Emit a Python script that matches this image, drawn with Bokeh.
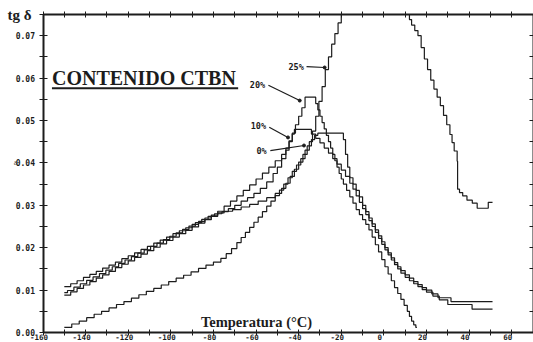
from bokeh.plotting import figure
from bokeh.models import Range1d, LinearAxis, FixedTicker, NumeralTickFormatter, Label
from bokeh.embed import file_html
from bokeh.resources import INLINE

# ---------------- data ----------------
T_10 = [-150, -147, -144, -141, -138, -135, -132, -129, -126, -123, -120, -117, -114, -111, -108,
        -105, -102, -99, -96, -93, -90, -87, -84, -81, -78,
        -75, -72, -69, -66, -63, -60, -57, -54, -51, -48, -46, -44.5, -43, -42,
        -34, -32, -30, -28, -26, -24, -22, -20, -18, -16, -14.5, -13, -11.5, -10, -8.5, -7, -5.5,
        -4, -2.5, -1, 0.5, 2, 3.5, 5, 6.5, 8, 10, 12, 14, 16, 18, 20, 23, 26, 30, 41.4, 51]
V_10 = [0.0108, 0.0115, 0.0122, 0.0130, 0.0137, 0.0144, 0.0152, 0.0159, 0.0166, 0.0174, 0.0181,
        0.0188, 0.0196, 0.0203, 0.0211, 0.0218, 0.0225, 0.0233, 0.0240, 0.0247, 0.0255, 0.0262,
        0.0270, 0.0277, 0.0286,
        0.0298, 0.0310, 0.0322, 0.0335, 0.0348, 0.0362, 0.0376, 0.0390, 0.0405, 0.0420, 0.0435,
        0.0452, 0.0468, 0.0479,
        0.0468, 0.0458, 0.0447, 0.0435, 0.0423, 0.0410, 0.0397, 0.0383, 0.0368, 0.0352, 0.0338,
        0.0322, 0.0307, 0.0292, 0.0278, 0.0264, 0.0250, 0.0236, 0.0222, 0.0208, 0.0195, 0.0183,
        0.0171, 0.0160, 0.0150, 0.0140, 0.0130, 0.0122, 0.0115, 0.0108, 0.0101, 0.0095, 0.0086,
        0.0077, 0.0066, 0.0055, 0.0055]

T_0 = [-150, -147, -144, -141, -138, -135, -132, -129, -126, -123, -120, -117, -114, -111, -108,
       -105, -102, -99, -96, -93, -90, -87, -84, -81, -78,
       -75, -71, -67, -63, -59, -55, -51, -48, -46, -44, -42, -40, -38, -36, -34, -32.5, -31,
       -19, -18, -17, -16, -14.5, -13, -11.5, -10, -8.5, -7, -5.5, -4, -2.5, -1, 0.5, 2, 3.5,
       5, 6.5, 8, 10, 12, 14, 16, 18, 20, 22.5, 25.4, 31.5, 51]
V_0 = [0.0088, 0.0096, 0.0104, 0.0112, 0.0120, 0.0128, 0.0136, 0.0144, 0.0153, 0.0161, 0.0169,
       0.0177, 0.0185, 0.0193, 0.0201, 0.0209, 0.0217, 0.0225, 0.0233, 0.0241, 0.0249, 0.0258,
       0.0266, 0.0274, 0.0282,
       0.0286, 0.0290, 0.0296, 0.0302, 0.0310, 0.0318, 0.0328, 0.0340, 0.0352, 0.0368, 0.0385,
       0.0402, 0.0420, 0.0440, 0.0455, 0.0465, 0.0470,
       0.0455, 0.0420, 0.0390, 0.0365, 0.0350, 0.0335, 0.0320, 0.0300, 0.0285, 0.0270, 0.0256,
       0.0242, 0.0228, 0.0214, 0.0200, 0.0188, 0.0176, 0.0165, 0.0155, 0.0146, 0.0136, 0.0128,
       0.0120, 0.0113, 0.0106, 0.0100, 0.0091, 0.0082, 0.0073, 0.0073]

T_20 = [-150, -148.5, -145.5, -142.5, -139.5, -136.5, -133.5, -130.5, -127.5, -124.5, -121.5,
        -118.5, -115.5, -112.5, -109.5, -106.5, -103.5, -100.5, -97.5, -94.5, -91.5, -88.5,
        -85.5, -82.5, -79.5,
        -76, -73, -70, -67, -64, -61, -58, -55, -52, -50, -48, -46, -44.5, -43, -41.5, -40,
        -38.5, -37,
        -32, -31, -30, -29, -28, -27, -26, -25, -24, -23, -22, -21, -20, -19, -17.5, -16, -14.5,
        -13, -11.5, -10, -8.5, -7, -5.5, -4, -2.5, -1, 0.5, 2, 3.5, 5, 6.5, 8, 9.5, 11, 12, 13,
        14, 15, 15.5]
V_20 = [0.0094, 0.0099, 0.0107, 0.0115, 0.0123, 0.0131, 0.0139, 0.0147, 0.0155, 0.0163, 0.0171,
        0.0179, 0.0187, 0.0195, 0.0203, 0.0211, 0.0219, 0.0227, 0.0235, 0.0243, 0.0251, 0.0259,
        0.0267, 0.0274, 0.0280,
        0.0285, 0.0292, 0.0300, 0.0310, 0.0318, 0.0328, 0.0340, 0.0355, 0.0375, 0.0390, 0.0410,
        0.0430, 0.0450, 0.0470, 0.0490, 0.0510, 0.0530, 0.0555,
        0.0540, 0.0525, 0.0510, 0.0495, 0.0480, 0.0465, 0.0450, 0.0435, 0.0420, 0.0405, 0.0390,
        0.0375, 0.0362, 0.0350, 0.0335, 0.0320, 0.0305, 0.0290, 0.0278, 0.0266, 0.0255, 0.0242,
        0.0225, 0.0207, 0.0190, 0.0172, 0.0155, 0.0138, 0.0122, 0.0106, 0.0092, 0.0078, 0.0064,
        0.0050, 0.0038, 0.0027, 0.0018, 0.0012, 0.0012]

# 25 % : the curve leaves the chart at the top between about -20 and 11 degC
T_25_rise = [-150, -146.5, -143, -139.5, -136, -132.5, -129, -125.5, -122, -118.5, -115, -111.5,
             -108, -104.5, -101, -97.5, -94, -90.5, -87, -83.5, -80, -76.5,
             -74, -71.5, -69, -67, -65, -63, -61, -59, -57, -55, -53, -51, -49, -47, -45, -43,
             -41, -39, -37, -35, -33.5, -32, -30.5, -29, -27.5, -26, -24.5, -23, -21.5, -20,
             -19.5]
V_25_rise = [0.0012, 0.0020, 0.0027, 0.0035, 0.0043, 0.0050, 0.0058, 0.0066, 0.0073, 0.0081,
             0.0089, 0.0097, 0.0104, 0.0112, 0.0120, 0.0128, 0.0135, 0.0143, 0.0151, 0.0159,
             0.0166, 0.0175,
             0.0186, 0.0198, 0.0212, 0.0224, 0.0236, 0.0248, 0.0260, 0.0272, 0.0285, 0.0298,
             0.0310, 0.0323, 0.0336, 0.0350, 0.0365, 0.0380, 0.0395, 0.0410, 0.0430, 0.0450,
             0.0475, 0.0510, 0.0545, 0.0580, 0.0620, 0.0650, 0.0680, 0.0705, 0.0730, 0.0750,
             0.0750]
T_25_fall = [11, 12, 13, 14.5, 16, 17.5, 19, 20.5, 22, 23.5, 25, 26.5, 28, 29.5, 31, 32, 33, 34.4,
             34.6, 35.5, 37, 39, 41.5, 43.8, 49, 51]
V_25_fall = [0.0750, 0.0738, 0.0725, 0.0712, 0.0700, 0.0672, 0.0645, 0.0620, 0.0595, 0.0574,
             0.0555, 0.0535, 0.0512, 0.0490, 0.0467, 0.0448, 0.0428, 0.0404,
             0.0338, 0.0330, 0.0322, 0.0312, 0.0305, 0.0293, 0.0307, 0.0307]

x_ticks = [-160, -140, -120, -100, -80, -60, -40, -20, 0, 20, 40, 60]
x_tick_labels = ["-160", "-140", "-120", "-100", "-80", "-60", "-40", "-20", "0", "20", "40", "60"]
y_ticks = [0.0, 0.01, 0.02, 0.03, 0.04, 0.05, 0.06, 0.07]
X_MIN, X_MAX = -160, 70
Y_MIN, Y_MAX = 0.0, 0.075

series_labels = ["25%", "20%", "10%", "0%"]
label_T = [-41.2, -59.3, -58.9, -57.4]
label_V = [0.0627, 0.0583, 0.0486, 0.0429]
arrow_T0 = [-36.3, -54.2, -53.8, -53.3]
arrow_V0 = [0.0627, 0.0583, 0.0484, 0.0429]
arrow_T1 = [-27.8, -39.5, -45.0, -37.5]
arrow_V1 = [0.0625, 0.0547, 0.0460, 0.0441]

# ---------------- figure ----------------
INK = "#1c1c1c"
MONO = "DejaVu Sans Mono"
SERIF = "Liberation Serif"

# the frame fills the canvas; the four axes are pinned at the data limits
p = figure(width=533, height=342, x_range=Range1d(-179.95, 70.23),
           y_range=Range1d(-0.00236, 0.0783),
           output_backend="svg", toolbar_location=None,
           min_border_left=0, min_border_right=0, min_border_top=0, min_border_bottom=0)
p.background_fill_color = "white"
p.border_fill_color = "white"
p.outline_line_color = None
p.xgrid.visible = False
p.ygrid.visible = False

xa = p.xaxis[0]
xa.fixed_location = Y_MIN
xa.bounds = (X_MIN, X_MAX)
xa.ticker = FixedTicker(ticks=[], minor_ticks=list(range(-160, 71, 10)))
xa.axis_line_width = 2
xa.axis_line_color = INK
xa.minor_tick_in = 3
xa.minor_tick_out = 3
xa.minor_tick_line_color = INK

ya = p.yaxis[0]
ya.fixed_location = X_MIN
ya.bounds = (Y_MIN, Y_MAX)
ya.ticker = FixedTicker(ticks=y_ticks, minor_ticks=[0.005 + 0.01 * i for i in range(8)])
ya.formatter = NumeralTickFormatter(format="0.00")
ya.major_label_text_font = MONO
ya.major_label_text_font_style = "bold"
ya.major_label_text_font_size = "8px"
ya.major_label_text_color = INK
ya.major_label_standoff = 4
ya.axis_line_width = 2
ya.axis_line_color = INK
ya.major_tick_in = 4
ya.major_tick_out = 4
ya.minor_tick_in = 4
ya.minor_tick_out = 4
ya.major_tick_line_color = INK
ya.minor_tick_line_color = INK

top = LinearAxis(fixed_location=Y_MAX, bounds=(X_MIN, X_MAX),
                 ticker=FixedTicker(ticks=[], minor_ticks=list(range(-160, 71, 10))),
                 axis_line_width=2, axis_line_color=INK,
                 minor_tick_in=3, minor_tick_out=3, minor_tick_line_color=INK)
p.add_layout(top, "above")
right = LinearAxis(fixed_location=X_MAX, bounds=(Y_MIN, Y_MAX),
                   ticker=FixedTicker(ticks=[], minor_ticks=[0.005 * i for i in range(16)]),
                   axis_line_width=2, axis_line_color=INK,
                   minor_tick_in=4, minor_tick_out=0, minor_tick_line_color=INK)
p.add_layout(right, "right")

# curves (plotter staircase)
for T, V in [(T_0, V_0), (T_10, V_10), (T_20, V_20), (T_25_rise, V_25_rise),
             (T_25_fall, V_25_fall)]:
    p.step(T, V, mode="after", line_color=INK, line_width=1.2)

# series labels with leader lines
for s, lt, lv in zip(series_labels, label_T, label_V):
    p.add_layout(Label(x=lt, y=lv, text=s, text_font=MONO, text_font_size="8.5px",
                       text_font_style="bold", text_color=INK, text_align="center",
                       text_baseline="middle"))
p.segment(arrow_T0, arrow_V0, arrow_T1, arrow_V1, line_color=INK, line_width=1.2)
p.scatter(arrow_T1, arrow_V1, size=3, color=INK)

# x tick labels (the plotter prints them slightly left of each tick)
for t, s in zip(x_ticks, x_tick_labels):
    p.add_layout(Label(x=t, y=-0.00108, text=s, text_font=MONO, text_font_size="7.5px",
                       text_font_style="bold", text_color=INK, text_align="center",
                       text_baseline="middle", x_offset=-4))

# titles
p.add_layout(Label(x=-176.7, y=0.0749, text="tg δ", text_font=SERIF, text_font_size="15px",
                   text_font_style="bold", text_color=INK, text_baseline="middle"))
p.add_layout(Label(x=-155.8, y=0.0600, text="CONTENIDO CTBN", text_font=SERIF,
                   text_font_size="20px", text_font_style="bold", text_color=INK,
                   text_baseline="middle"))
p.segment([-155.8], [0.0576], [-68.4], [0.0576], line_color=INK, line_width=2)
p.add_layout(Label(x=-59.8, y=0.00236, text="Temperatura (°C)", text_font=SERIF,
                   text_font_size="14.5px", text_font_style="bold", text_color=INK,
                   text_align="center", text_baseline="middle"))
p.add_layout(Label(x=-172.9, y=0.0399, text="δ", text_font=SERIF, text_font_size="7px",
                   text_color=INK, text_align="center", text_baseline="middle"))

open("out.html", "w").write(file_html(p, INLINE))
